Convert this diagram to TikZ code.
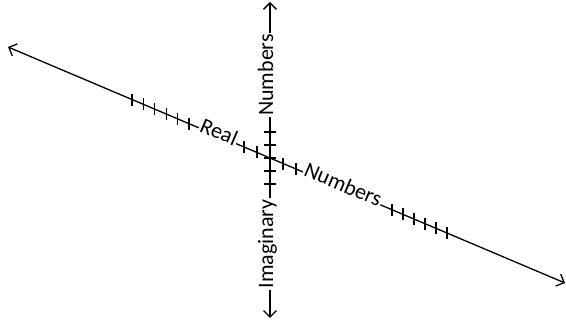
\documentclass[tikz,border=0pt]{standalone}
\usepackage{fontspec}
\setmainfont{Carlito}
\usetikzlibrary{arrows.meta,calc}

\tikzset{
    axis/.style={line width=1.3pt},
    tip/.style={-{Straight Barb[length=6.5pt,width=13pt]}},
    tick/.style={line width=1.3pt},
    axislabel/.style={font=\fontsize{22}{26}\selectfont, inner sep=1pt,
                      text height=0.62em, text depth=0pt}
}

\begin{document}
\begin{tikzpicture}[x=1pt,y=1pt]
    \useasboundingbox (0,0) rectangle (566,323);

    % ends of the two axes
    \coordinate (realL) at (8,276);
    \coordinate (realR) at (565,40);
    \coordinate (imagT) at (270,321);
    \coordinate (imagB) at (270,5);
    \coordinate (origin) at (270,165);

    % labels sit on the axes
    \node[axislabel, rotate=-23] (real) at ($(realL)!0.376!(realR)$) {Real};
    \node[axislabel, rotate=-23] (numR) at ($(realL)!0.599!(realR)$) {Numbers};
    \node[axislabel, rotate=90] (numI) at (270,248) {Numbers};
    \node[axislabel, rotate=90] (imag) at (270,79) {Imaginary};

    % real axis
    \draw[axis, tip] (real.west) -- (realL);
    \draw[axis] (real.east) -- (numR.west);
    \draw[axis, tip] (numR.east) -- (realR);

    % imaginary axis
    \draw[axis, tip] (numI.east) -- (imagT);
    \draw[axis] (numI.west) -- (imag.east);
    \draw[axis, tip] (imag.west) -- (imagB);

    % ticks
    \foreach \x in {132,143.4,154.8,166.2,177.6,189,244,257,283,296,392,403,414,425,436,447}
        \draw[tick] ($(realL)!{(\x-8)/557}!(realR)$) ++(0,-6) -- ++(0,12);
    \foreach \k in {-2,...,2}
        \draw[tick] ($(origin)+(-6,13*\k)$) -- ++(12,0);

\end{tikzpicture}
\end{document}
